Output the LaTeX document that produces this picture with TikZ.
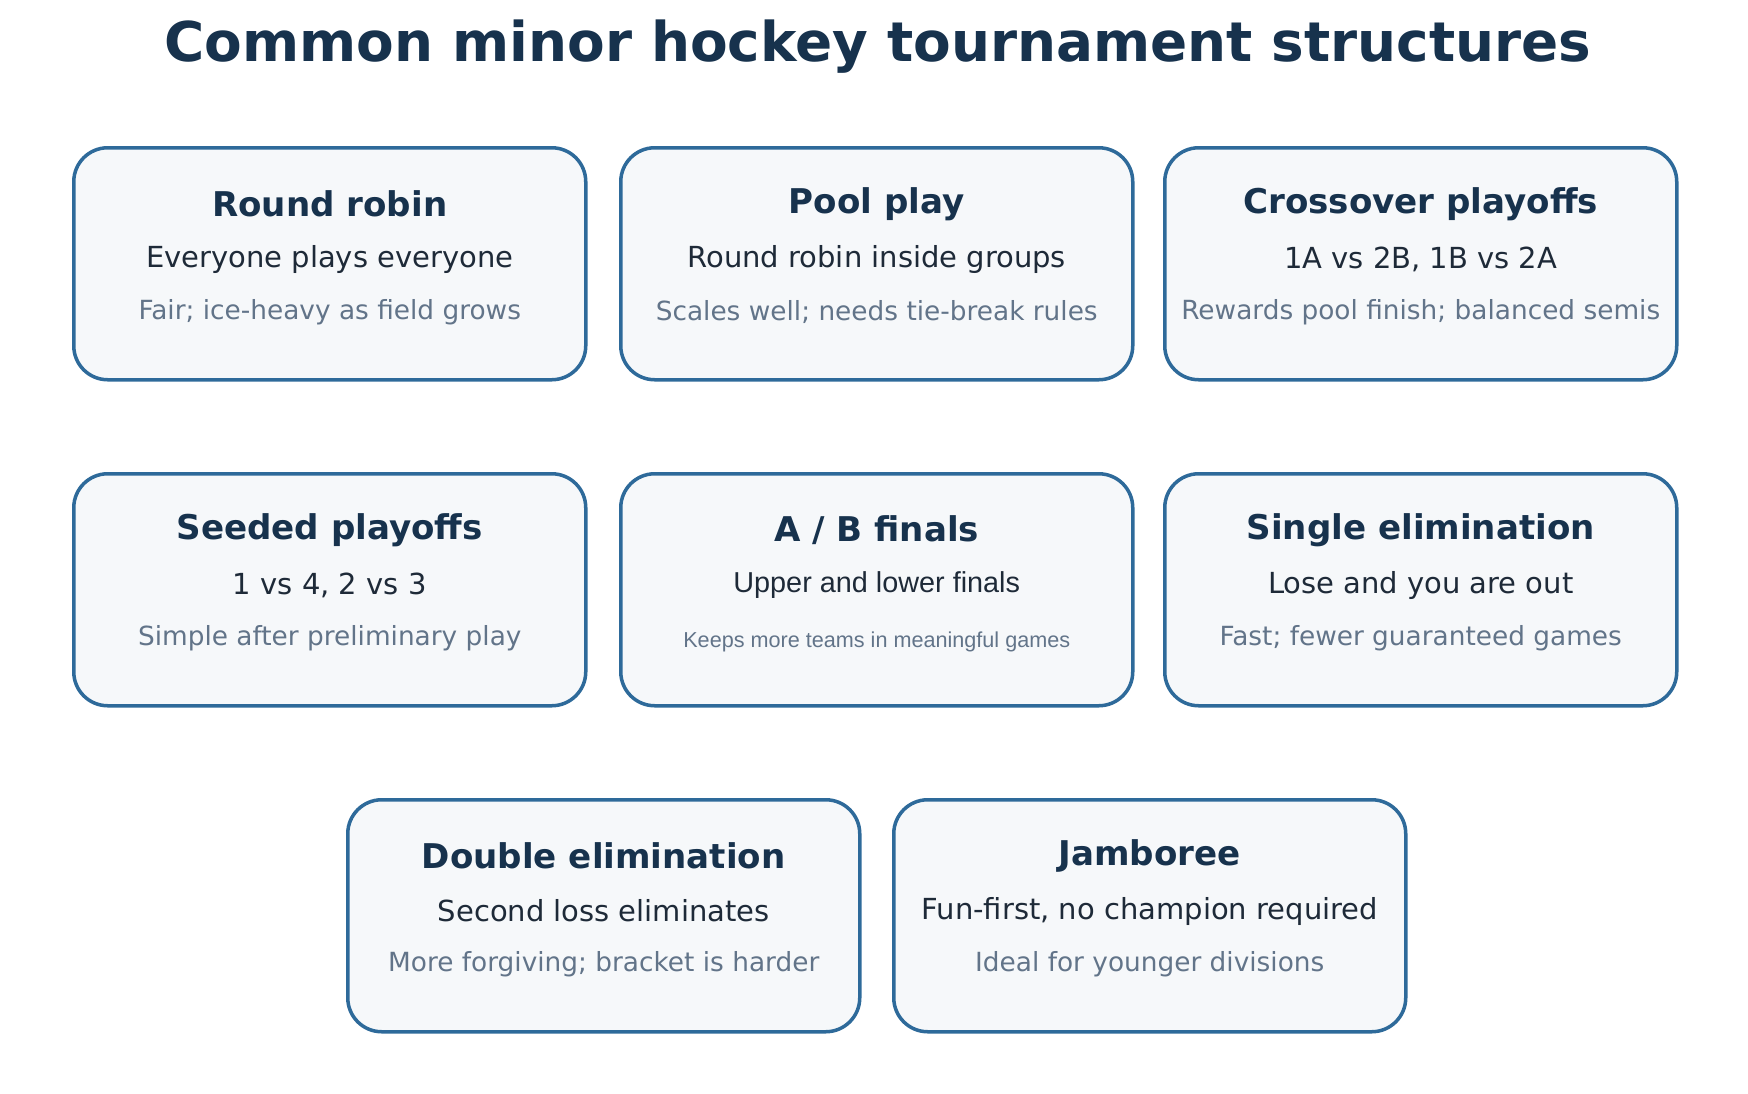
\documentclass[tikz,border=0pt]{standalone}
\usepackage{fontspec}
\setmainfont{DejaVu Sans}
\newfontfamily\arialfont{Liberation Sans}
\usetikzlibrary{positioning}
\definecolor{hockeyBorder}{RGB}{46, 106, 154}
\definecolor{hockeyFill}{RGB}{246, 248, 250}
\definecolor{hockeyNavy}{RGB}{23, 50, 77}
\definecolor{hockeyInk}{RGB}{30, 42, 56}
\definecolor{hockeyGray}{RGB}{98, 116, 137}
\tikzset{
  card/.style={draw=hockeyBorder, line width=1pt, fill=hockeyFill, rounded corners=0.34cm,
    minimum width=5.12cm, minimum height=2.32cm, anchor=north west},
  head/.style={font=\fontsize{9.7}{11}\selectfont\bfseries, text=hockeyNavy},
  sub/.style={font=\fontsize{8.25}{10}\selectfont, text=hockeyInk},
  note/.style={font=\fontsize{7.5}{9}\selectfont, text=hockeyGray}
}
\begin{document}
\begin{tikzpicture}
  \useasboundingbox (0,0) rectangle (17.48,-10.94);
  \node[font=\fontsize{15.6}{18}\selectfont\bfseries, text=hockeyNavy] (title) at (8.78,-0.47) {Common minor hockey tournament structures};

  % Row 1
  \node[card] (rr) at (0.72,-1.46) {};
  \node[head] (rrh) at ([yshift=-0.58cm]rr.north) {Round robin};
  \node[sub] (rrs) at ([yshift=-1.13cm]rr.north) {Everyone plays everyone};
  \node[note] (rrn) at ([yshift=-1.66cm]rr.north) {Fair; ice-heavy as field grows};

  \node[card] (pp) at (6.19,-1.46) {};
  \node[head] (pph) at ([yshift=-0.58cm]pp.north) {Pool play};
  \node[sub] (pps) at ([yshift=-1.13cm]pp.north) {Round robin inside groups};
  \node[note] (ppn) at ([yshift=-1.66cm]pp.north) {Scales well; needs tie-break rules};

  \node[card] (cp) at (11.63,-1.46) {};
  \node[head] (cph) at ([yshift=-0.58cm]cp.north) {Crossover playoffs};
  \node[sub] (cps) at ([yshift=-1.13cm]cp.north) {1A vs 2B, 1B vs 2A};
  \node[note] (cpn) at ([yshift=-1.66cm]cp.north) {Rewards pool finish; balanced semis};

  % Row 2
  \node[card] (sp) at (0.72,-4.72) {};
  \node[head] (sph) at ([yshift=-0.58cm]sp.north) {Seeded playoffs};
  \node[sub] (sps) at ([yshift=-1.13cm]sp.north) {1 vs 4, 2 vs 3};
  \node[note] (spn) at ([yshift=-1.66cm]sp.north) {Simple after preliminary play};

  \node[card] (ab) at (6.19,-4.72) {};
  \node[head] (abh) at ([yshift=-0.58cm]ab.north) {A / B finals};
  \node[sub, font=\arialfont\fontsize{8.2}{10}\selectfont] (abs) at ([yshift=-1.13cm]ab.north) {Upper and lower finals};
  \node[note, font=\arialfont\fontsize{6.15}{7}\selectfont] (abn) at ([yshift=-1.7cm]ab.north) {Keeps more teams in meaningful games};

  \node[card] (se) at (11.63,-4.72) {};
  \node[head] (seh) at ([yshift=-0.58cm]se.north) {Single elimination};
  \node[sub] (ses) at ([yshift=-1.13cm]se.north) {Lose and you are out};
  \node[note] (sen) at ([yshift=-1.66cm]se.north) {Fast; fewer guaranteed games};

  % Row 3
  \node[card] (de) at (3.46,-7.98) {};
  \node[head] (deh) at ([yshift=-0.58cm]de.north) {Double elimination};
  \node[sub] (des) at ([yshift=-1.13cm]de.north) {Second loss eliminates};
  \node[note] (den) at ([yshift=-1.66cm]de.north) {More forgiving; bracket is harder};

  \node[card] (jb) at (8.92,-7.98) {};
  \node[head] (jbh) at ([yshift=-0.58cm]jb.north) {Jamboree};
  \node[sub] (jbs) at ([yshift=-1.13cm]jb.north) {Fun-first, no champion required};
  \node[note] (jbn) at ([yshift=-1.66cm]jb.north) {Ideal for younger divisions};
\end{tikzpicture}
\end{document}
